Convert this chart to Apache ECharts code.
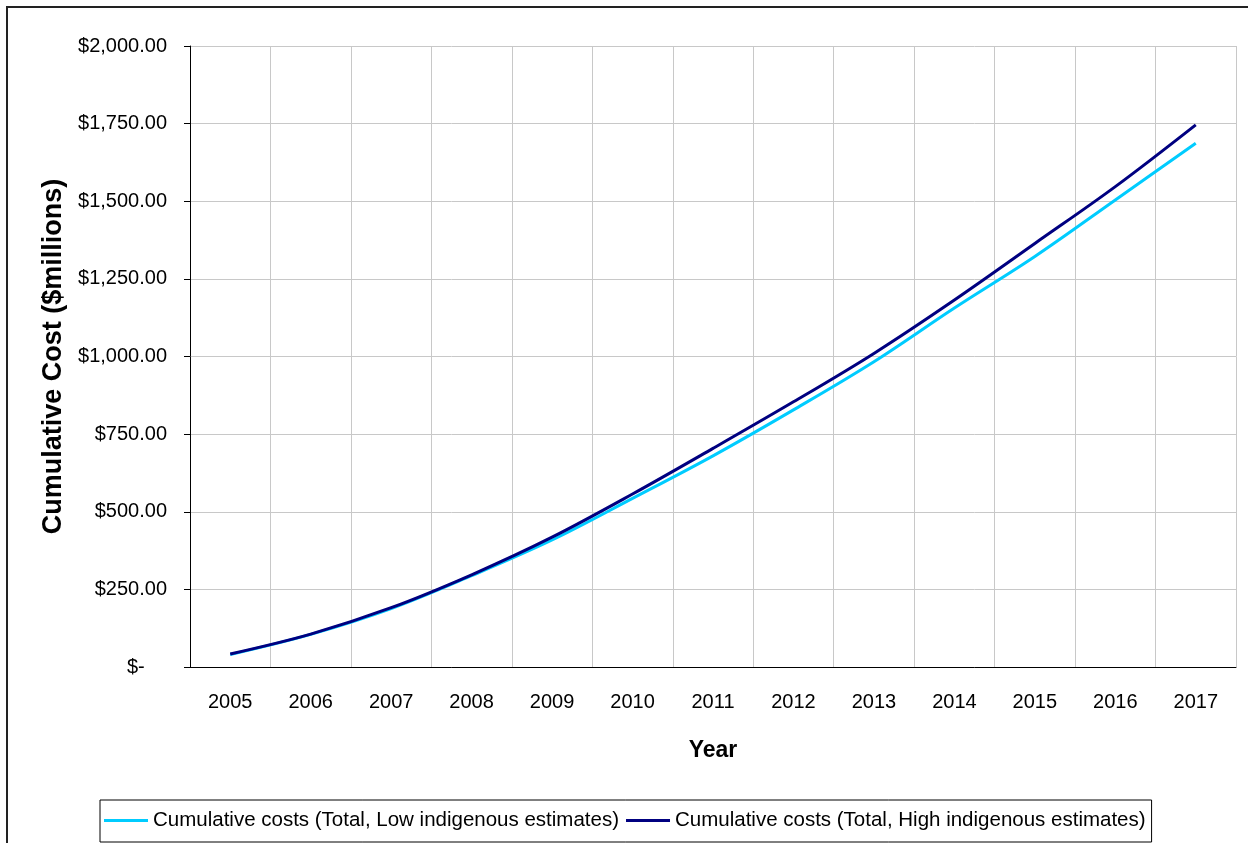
<!DOCTYPE html>
<html>
<head>
<meta charset="utf-8">
<script src="https://cdn.jsdelivr.net/npm/echarts@6/dist/echarts.min.js"></script>
<style>
  html, body { margin: 0; padding: 0; background: #fff; }
  #main { width: 1248px; height: 843px; }
</style>
</head>
<body>
<div id="main"></div>
<script>
// data
var years = ['2005', '2006', '2007', '2008', '2009', '2010', '2011', '2012', '2013', '2014', '2015', '2016', '2017'];
var lowCosts = [40, 105, 188, 294, 409, 543, 680, 828, 983, 1156, 1322, 1504, 1687];
var highCosts = [42, 106, 191, 297, 418, 557, 704, 854, 1010, 1182, 1364, 1547, 1746];
var seriesNames = [
    'Cumulative costs (Total, Low indigenous estimates)',
    'Cumulative costs (Total, High indigenous estimates)'
];

var font = "'Liberation Sans', Arial, sans-serif";

function money(v) {
    if (v === 0) return '$-    ';
    var s = Math.round(v).toString().replace(/\B(?=(\d{3})+(?!\d))/g, ',');
    return '$' + s + '.00';
}

var myChart = echarts.init(document.getElementById('main'));
myChart.setOption({
    animation: false,
    backgroundColor: '#fff',
    graphic: [{
        type: 'rect',
        shape: { x: 7, y: 7, width: 1300, height: 900 },
        style: { fill: null, stroke: '#222', lineWidth: 2 },
        silent: true
    }],
    grid: { left: 190, right: 12, top: 46, bottom: 176 },
    legend: {
        left: 100,
        top: 800,
        width: 1100,
        padding: [10, 6, 11, 4],
        itemGap: 7,
        itemWidth: 44,
        itemHeight: 3,
        icon: 'rect',
        borderColor: '#000',
        borderWidth: 1,
        textStyle: { fontFamily: font, fontSize: 20.5, color: '#000' },
        data: seriesNames
    },
    xAxis: {
        type: 'category',
        data: years,
        boundaryGap: true,
        name: 'Year',
        nameLocation: 'middle',
        nameGap: 72,
        nameTextStyle: { fontFamily: font, fontSize: 23, fontWeight: 'bold', color: '#000' },
        axisLine: { lineStyle: { color: '#000', width: 1 } },
        axisTick: { length: 8, lineStyle: { color: '#000' } },
        axisLabel: { interval: 0, margin: 25, fontFamily: font, fontSize: 20, color: '#000' },
        splitLine: { show: true, lineStyle: { color: '#c8c8c8', width: 1 } }
    },
    yAxis: {
        type: 'value',
        min: 0,
        max: 2000,
        interval: 250,
        name: 'Cumulative Cost ($millions)',
        nameLocation: 'middle',
        nameGap: 111,
        nameTextStyle: { fontFamily: font, fontSize: 27, fontWeight: 'bold', color: '#000' },
        axisLine: { show: true, lineStyle: { color: '#000', width: 1 } },
        axisTick: { show: true, length: 6, lineStyle: { color: '#000' } },
        axisLabel: { margin: 23, fontFamily: font, fontSize: 20, color: '#000', formatter: money },
        splitLine: { show: true, lineStyle: { color: '#c8c8c8', width: 1 } }
    },
    series: [
        {
            name: seriesNames[0],
            type: 'line',
            data: lowCosts,
            smooth: 0.35,
            symbol: 'none',
            color: '#00CCFF',
            lineStyle: { width: 3, color: '#00CCFF' }
        },
        {
            name: seriesNames[1],
            type: 'line',
            data: highCosts,
            smooth: 0.35,
            symbol: 'none',
            color: '#000080',
            lineStyle: { width: 3, color: '#000080' }
        }
    ]
});
</script>
</body>
</html>
